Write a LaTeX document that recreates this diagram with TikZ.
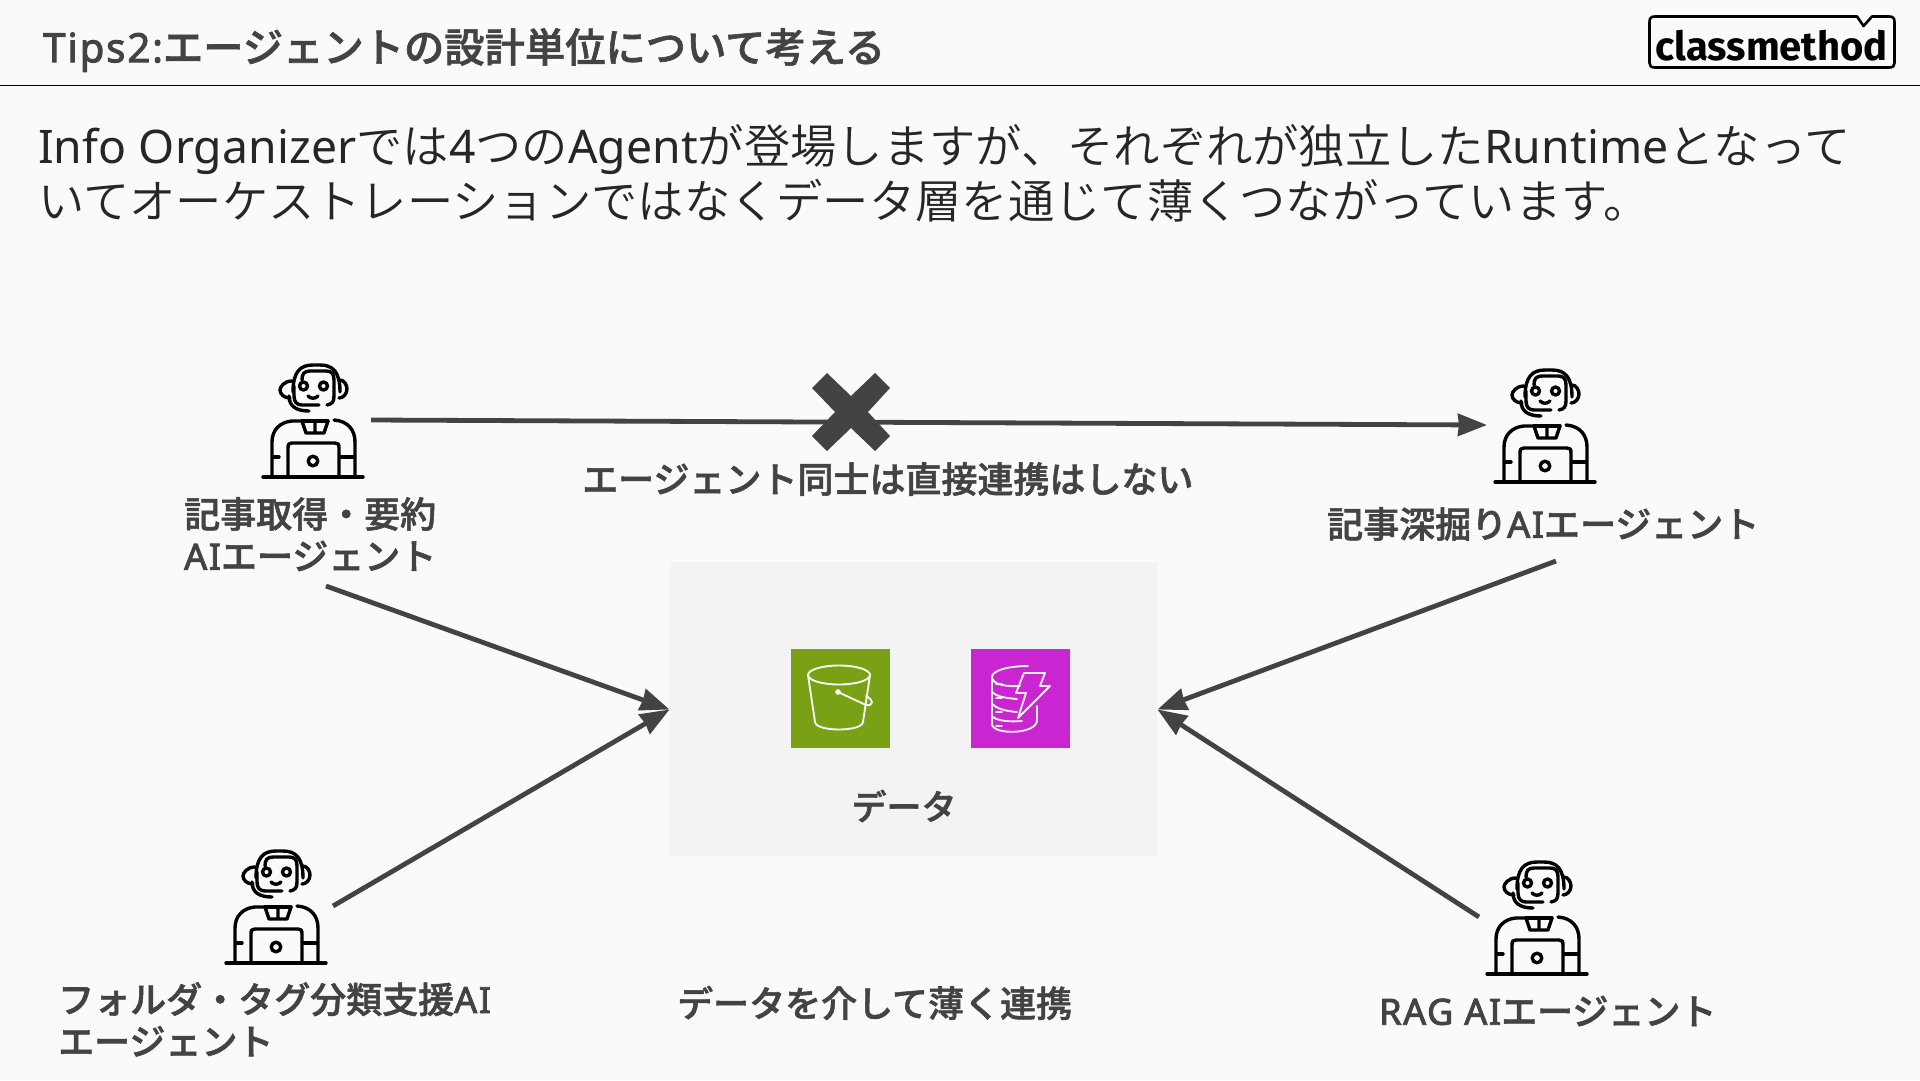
\documentclass[tikz,border=0pt]{standalone}
\usepackage{fontspec}
\setmainfont{Noto Sans CJK JP}
\newfontfamily\cjkbody{Noto Sans CJK JP DemiLight}
\newfontfamily\cjkhead[FakeBold=1.5]{Noto Sans CJK JP Medium}
\newfontfamily\latbody[LetterSpace=0.2]{Noto Sans}
\newfontfamily\lathead[FakeBold=2.5,LetterSpace=4.5]{Noto Sans}
\newfontfamily\logofont{Fira Sans}
\newcommand{\lb}[1]{{\latbody #1}}
\newcommand{\lh}[1]{{\lathead #1}}
\usetikzlibrary{arrows.meta}
\definecolor{bgc}{HTML}{FAFAFA}
\definecolor{ink}{HTML}{434343}
\definecolor{panelc}{HTML}{F3F3F3}
\definecolor{s3c}{HTML}{7AA116}
\definecolor{ddbc}{HTML}{C925D1}
\tikzset{
  x=1pt,y=-1pt,
  lbl/.style={text=ink,font=\fontsize{36}{42}\selectfont\cjkhead,inner sep=0pt,align=left},
  conn/.style={draw=ink,line width=4.8pt,-{Stealth[length=29pt,width=22pt,inset=1pt]}},
  rob/.style={line width=3.4pt,line cap=round,line join=round,draw=black},
  ico/.style={line width=1.9pt,draw=white,line cap=round,line join=round,opacity=.92},
  pics/robot/.style={code={
    \draw[rob] (63,42) .. controls (63,22) and (70,15) .. (83,15) -- (90,15) .. controls (103,15) and (110,22) .. (110,42);
    \draw[rob] (72,30) .. controls (72,24) and (74,21) .. (80,21) -- (96,21) .. controls (102,21) and (104,24) .. (104,30) -- (104,46) .. controls (104,52) and (102,54) .. (97,55);
    \draw[rob] (89,55) -- (72,55) .. controls (67,55) and (64,52) .. (64,46) -- (64,36);
    \draw[rob] (62,31) .. controls (54,31) and (50,37) .. (50,40) .. controls (50,44) and (54,48) .. (60,48);
    \draw[rob] (110,30) .. controls (114,30) and (117,35) .. (117,39) .. controls (117,44) and (113,48) .. (109,48);
    \draw[rob] (59,46) .. controls (59,56) and (66,61) .. (79,61);
    \draw[rob] (73.5,36) circle (4pt);
    \draw[rob] (93.5,36) circle (4pt);
    \draw[rob] (78,46) .. controls (81,49) and (85,49) .. (88,46);
    \draw[rob] (72,71) -- (76,83) -- (94,83) -- (98,71) (85,73) -- (85,83);
    \draw[rob] (72,71) -- (62,71) .. controls (50,72) and (42,80) .. (42,92) -- (42,126);
    \draw[rob] (72,71) -- (98,71);
    \draw[rob] (104,70) .. controls (118,71) and (125,80) .. (125,92) -- (125,126);
    \draw[rob] (44,107) -- (49,107) (111,107) -- (124,107);
    \draw[rob] (58,126) -- (58,98) .. controls (58,94) and (59,93) .. (62,93) -- (105,93) .. controls (108,93) and (109,94) .. (109,98) -- (109,126);
    \draw[rob] (83,111) circle (4.8pt);
    \draw[rob] (33,127) -- (133,127);
  }}
}
\begin{document}
\begin{tikzpicture}
\useasboundingbox (0,0) rectangle (1920,1080);
\fill[bgc] (0,0) rectangle (1920,1080);
% header
\node[anchor=west,inner sep=0pt,text=ink,font=\fontsize{40.3}{46}\selectfont\cjkhead] (title) at (43,50) {\lh{Tips2:}エージェントの設計単位について考える};
\draw[black,line width=1.5pt] (0,85.5) -- (1920,85.5);
% logo
\draw[black,line width=2.6pt,line join=round] (1655,16.5) -- (1857,16.5) -- (1863.5,26) -- (1872,16.5) -- (1889,16.5) .. controls (1893,16.5) and (1894.5,18) .. (1894.5,22) -- (1894.5,63) .. controls (1894.5,66) and (1893,67.5) .. (1889,67.5) -- (1655,67.5) .. controls (1651,67.5) and (1649.5,66) .. (1649.5,63) -- (1649.5,22) .. controls (1649.5,18) and (1651,16.5) .. (1655,16.5) -- cycle;
\node[inner sep=0pt,text=black,font=\logofont\fontsize{40}{40}\selectfont\bfseries] (logo) at (1771.5,46) {classmethod};
% body text
\node[anchor=north west,inner sep=0pt,text=black!85,align=left,font=\fontsize{46.3}{55}\selectfont\cjkbody] (body) at (38,124) {\lb{Info Organizer}では\lb{4}つの\lb{Agent}が登場しますが、それぞれが独立した\lb{Runtime}となって\\いてオーケストレーションではなくデータ層を通じて薄くつながっています。};
% data panel
\node[fill=panelc,minimum width=487pt,minimum height=294pt,inner sep=0pt,anchor=north west] (data) at (670,562) {};
\node[fill=s3c,minimum width=99pt,minimum height=99pt,inner sep=0pt,anchor=north west] (s3) at (791,649) {};
\node[fill=ddbc,minimum width=99pt,minimum height=99pt,inner sep=0pt,anchor=north west] (ddb) at (971,649) {};
% S3 bucket icon
\begin{scope}[shift={(770,630)}]
\draw[ico] (69,45) ellipse (31pt and 9.5pt);
\draw[ico] (38,45) -- (45,92) .. controls (46,102) and (92,102) .. (93,92) -- (100,45);
\fill[white] (68,62) circle (2.8pt);
\draw[ico] (68,62) -- (96,75) .. controls (104,76) and (104,70) .. (96,66);
\end{scope}
% DynamoDB icon
\begin{scope}[shift={(770,630)}]
\draw[ico] (258,36) .. controls (240,36) and (222,40) .. (222,47) -- (222,94) .. controls (222,105) and (267,105) .. (267,90) -- (267,76);
\draw[ico] (222,47) .. controls (222,54) and (235,57) .. (250,56);
\draw[ico] (222,62) .. controls (226,66) and (234,68) .. (247,69);
\draw[ico] (222,72) -- (222,74) .. controls (226,78) and (234,81) .. (247,82);
\draw[ico] (222,86) .. controls (226,91) and (240,92) .. (252,91) ;
\draw[ico] (226,54) -- (232,54) (226,68) -- (232,68) (226,82) -- (232,82) (226,96) -- (232,96);
\draw[ico] (254,43) -- (275,43) -- (270,56) -- (280,56) -- (248,88) -- (256,63) -- (246,63) -- cycle;
\end{scope}
\node[lbl,font=\fontsize{35}{40}\selectfont\cjkhead] (datalbl) at (904,806) {データ};
% robots
\pic at (230,350) {robot};
\pic at (1462,355) {robot};
\pic at (193,836) {robot};
\pic at (1454,847) {robot};
% labels
\node[lbl,anchor=north west] (l1) at (184,497) {記事取得・要約\\\lh{AI}エージェント};
\node[lbl,anchor=west] (l2) at (1327,524) {記事深掘り\lh{AI}エージェント};
\node[lbl,anchor=north west] (l3) at (58,982) {フォルダ・タグ分類支援\lh{AI}\\エージェント};
\node[lbl,anchor=west] (l4) at (1379,1011) {\lh{RAG AI}エージェント};
\node[lbl,anchor=west] (m1) at (582,479) {エージェント同士は直接連携はしない};
\node[lbl,anchor=west] (m2) at (677,1003) {データを介して薄く連携};
% connectors
\coordinate (a1s) at (371,420);
\coordinate (a1e) at (1487,425);
\coordinate (a2s) at (326,586);
\coordinate (a3s) at (333,906);
\coordinate (a4s) at (1556,561);
\coordinate (a5s) at (1479,917);
\coordinate (wt) at (669.5,709.5);
\coordinate (et) at (1157.5,709.5);
\draw[conn] (a1s) -- (a1e);
\draw[conn] (a2s) -- (wt);
\draw[conn] (a3s) -- (wt);
\draw[conn] (a4s) -- (et);
\draw[conn] (a5s) -- (et);
% cross
\fill[ink] (827,373) -- (851,396) -- (875,373) -- (890,388) -- (868,412) -- (890,436) -- (875,451) -- (851,428) -- (827,451) -- (812,436) -- (835,412) -- (812,388) -- cycle;
\end{tikzpicture}
\end{document}
